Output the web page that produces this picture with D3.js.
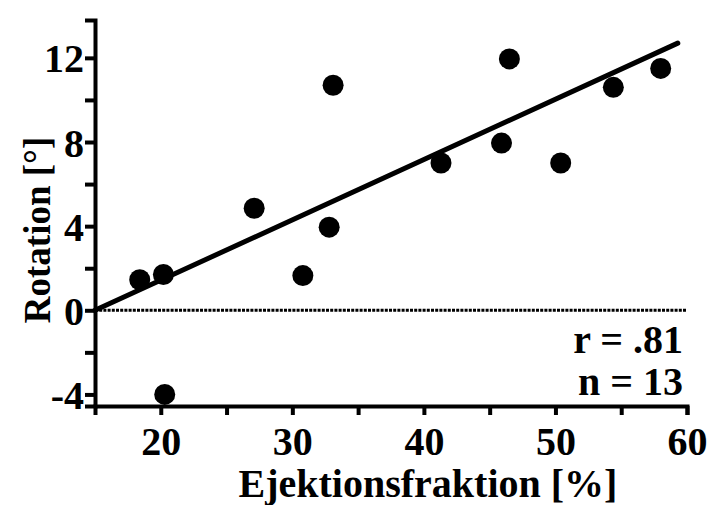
<!DOCTYPE html>
<html>
<head>
<meta charset="utf-8">
<script src="https://cdn.jsdelivr.net/npm/d3@7"></script>
<style>
  body { margin: 0; background: #fff; }
  text { font-family: "Liberation Serif", "DejaVu Serif", serif; font-weight: bold; fill: #000; }
</style>
</head>
<body>
<svg width="711" height="505"></svg>
<script>
// Data
var ejection = [18.4, 20.2, 20.3, 27.1, 30.8, 32.8, 33.1, 41.3, 45.9, 46.5, 50.4, 54.4, 58.0];
var rotation = [1.45, 1.7, -4.0, 4.85, 1.65, 3.95, 10.7, 7.0, 7.95, 11.95, 7.0, 10.6, 11.5];
var fitX = [15, 59.3];
var fitY = [0, 12.7];
var xTicks = [20, 25, 30, 35, 40, 45, 50, 55, 60];
var yTicks = [-4, -2, 0, 2, 4, 6, 8, 10, 12];
var stats = ['r = .81', 'n = 13'];

var svg = d3.select('svg');

var x = d3.scaleLinear().domain([15, 60]).range([95, 687]);
var y = d3.scaleLinear().domain([-4.55, 13.8]).range([406, 20]);

// zero reference line (dotted)
svg.append('line')
	.attr('x1', x(15)).attr('x2', x(60))
	.attr('y1', y(0)).attr('y2', y(0))
	.style('stroke', '#000')
	.style('stroke-width', 3)
	.style('stroke-dasharray', '3,1.2');

// axes
var xAxis = d3.axisBottom(x)
	.tickValues(xTicks)
	.tickSize(9)
	.tickFormat(function(d) { return d % 10 === 0 ? d : ''; });
var gx = svg.append('g')
	.attr('transform', 'translate(0,' + y(-4.55) + ')')
	.call(xAxis);

var yAxis = d3.axisLeft(y)
	.tickValues(yTicks)
	.tickSize(10)
	.tickFormat(function(d) { return d % 4 === 0 ? d : ''; });
var gy = svg.append('g')
	.attr('transform', 'translate(' + x(15) + ',0)')
	.call(yAxis);

[gx, gy].forEach(function(g) {
	g.select('.domain').style('stroke', '#000').style('stroke-width', 4);
	g.selectAll('.tick line').style('stroke', '#000').style('stroke-width', 4);
	g.selectAll('.tick text')
		.style('font-family', '"Liberation Serif", serif')
		.style('font-weight', 'bold')
		.style('font-size', '40px')
		.style('fill', '#000');
});
gx.selectAll('.tick text').attr('dy', '0.71em').attr('y', 21);
gy.selectAll('.tick text').attr('x', -11).attr('dy', '0.35em');

// regression line
svg.append('line')
	.attr('x1', x(fitX[0])).attr('y1', y(fitY[0]))
	.attr('x2', x(fitX[1])).attr('y2', y(fitY[1]))
	.style('stroke', '#000')
	.style('stroke-width', 5)
	.style('stroke-linecap', 'round');

// data points
svg.selectAll('circle')
	.data(d3.range(ejection.length))
	.enter()
	.append('circle')
	.attr('cx', function(i) { return x(ejection[i]); })
	.attr('cy', function(i) { return y(rotation[i]); })
	.attr('r', 10.5)
	.style('fill', '#000');

// stats text
svg.selectAll('text.stat')
	.data(stats)
	.enter()
	.append('text')
	.attr('class', 'stat')
	.attr('x', 683)
	.attr('y', function(d, i) { return 353 + i * 42; })
	.attr('text-anchor', 'end')
	.style('font-size', '40px')
	.text(function(d) { return d; });

// axis titles
svg.append('text')
	.attr('x', 428)
	.attr('y', 497)
	.attr('text-anchor', 'middle')
	.style('font-size', '40px')
	.text('Ejektionsfraktion [%]');

svg.append('text')
	.attr('transform', 'translate(50,230) rotate(-90)')
	.attr('text-anchor', 'middle')
	.style('font-size', '37px')
	.text('Rotation [°]');
</script>
</body>
</html>
